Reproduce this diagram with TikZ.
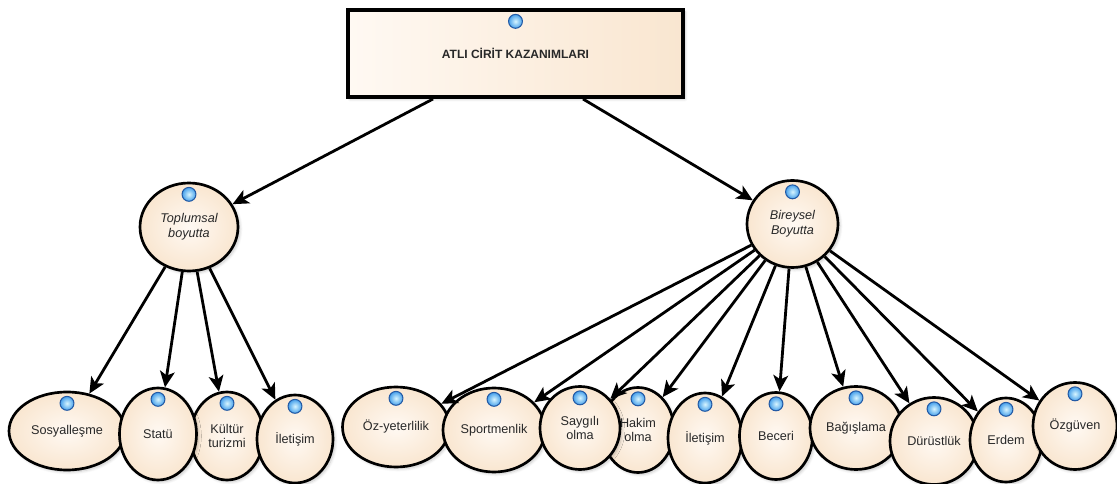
\documentclass[tikz,border=0pt]{standalone}
\usepackage{fontspec}
\setmainfont{Liberation Sans}
\usetikzlibrary{arrows.meta}
\usetikzlibrary{shapes}
\usetikzlibrary{shadows.blur}
\usetikzlibrary{calc}

\definecolor{peach}{RGB}{249,230,208}
\definecolor{peachlight}{RGB}{255,249,243}
\definecolor{dotlight}{RGB}{215,245,255}
\definecolor{dotblue}{RGB}{70,160,235}
\definecolor{dotedge}{RGB}{35,90,165}
\definecolor{inktext}{RGB}{40,40,40}

\tikzset{
  bluedot/.style={path picture={
    \coordinate (dotc) at ($(path picture bounding box.north)!8.5pt!(path picture bounding box.center)$);
    \shade [inner color=dotlight, outer color=dotblue] (dotc) circle (5.2pt);
    \draw [dotedge, line width=0.8pt] (dotc) circle (5.2pt);}},
  softshadow/.style={blur shadow={shadow xshift=1.5pt, shadow yshift=-1.5pt, shadow opacity=22, shadow blur steps=6}},
  bubble/.style 2 args={ellipse, draw=black, line width=2pt, inner color=peachlight, outer color=peach,
    minimum width=#1*0.75pt, minimum height=#2*0.75pt, inner sep=1pt, align=center, text=inktext,
    font=\fontsize{9.5}{11}\selectfont, softshadow, bluedot},
  midbubble/.style 2 args={bubble={#1}{#2}, font=\fontsize{9.5}{11}\selectfont\itshape},
  headbox/.style={rectangle, draw=black, line width=3pt, left color=peachlight, right color=peach,
    minimum width=335*0.75pt, minimum height=87*0.75pt, text=inktext,
    font=\fontsize{9}{11}\selectfont\bfseries, softshadow, bluedot},
  link/.style={line width=2.1pt, -{Stealth[length=12pt,width=11pt,inset=3pt]}},
}

\begin{document}
\begin{tikzpicture}[x=0.75pt,y=0.75pt,yscale=-1,xscale=1]
\useasboundingbox (0,0) rectangle (1117,484);

% Main box
\node [headbox] (kaz) at (515.5,53.5) {ATLI CİRİT KAZANIMLARI};

% Dimensions
\node [midbubble={98}{88}] (top) at (189,227) {Toplumsal\\boyutta};
\node [midbubble={91}{87}] (bir) at (792.5,224) {Bireysel\\Boyutta};

% Leaves, left group
\node [bubble={116}{78}] (sos) at (67,431) {Sosyalleşme};
\node [bubble={73}{88}] (kul) at (227,436) {Kültür\\turizmi};
\node [bubble={77}{92}] (sta) at (158,434) {Statü};
\node [bubble={76}{88}] (ile) at (295,439) {İletişim};

% Leaves, right group
\node [bubble={107}{80}] (oz) at (396,427) {Öz-yeterlilik};
\node [bubble={102}{84}] (spo) at (494,430) {Sportmenlik};
\node [bubble={72}{85}] (hak) at (638,430) {Hakim\\olma};
\node [bubble={80}{83}] (say) at (580,428) {Saygılı\\olma};
\node [bubble={74}{90}] (ils) at (705,438) {İletişim};
\node [bubble={73}{87}] (bec) at (776,436) {Beceri};
\node [bubble={92}{83}] (bag) at (856,428) {Bağışlama};
\node [bubble={88}{87}] (dur) at (934,441) {Dürüstlük};
\node [bubble={72}{84}] (erd) at (1006,440) {Erdem};
\node [bubble={84}{87}] (ozg) at (1075,426) {Özgüven};

% Arrows
\draw [link] ($(kaz.south)+(-82.5,0)$) -- (top);
\draw [link] ($(kaz.south)+(67.5,0)$) -- (bir);
\foreach \k in {sos,sta,kul,ile}
  \draw [link] (top) -- (\k);
\foreach \k in {oz,spo,say,hak,ils,bec,bag,dur,erd,ozg}
  \draw [link] (bir) -- (\k);

\end{tikzpicture}
\end{document}
